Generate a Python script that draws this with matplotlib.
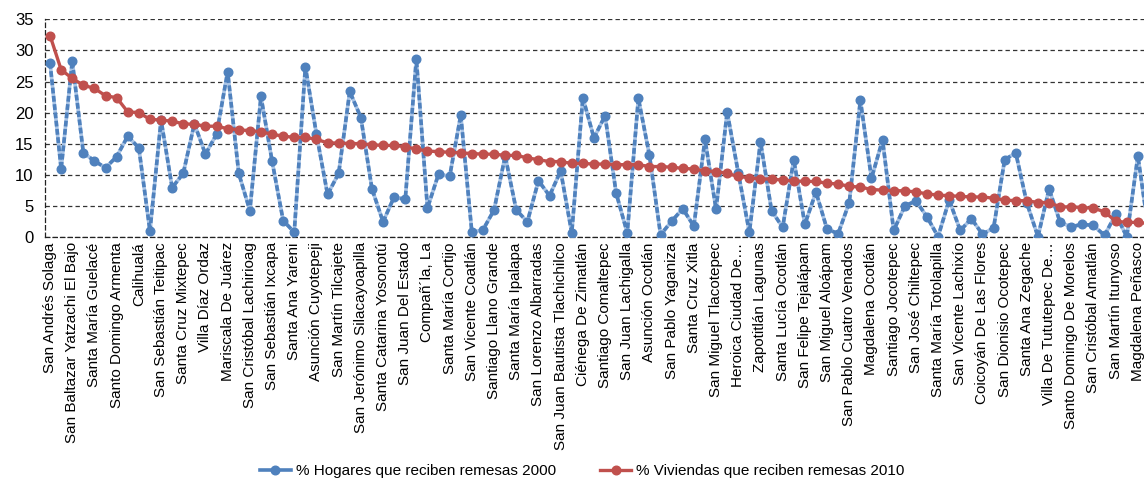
import matplotlib.pyplot as plt
import numpy as np

plt.rcParams['font.family'] = ['Liberation Sans', 'DejaVu Sans']

# Municipality names (one label for every second municipality)
municipios = [
    "San Andrés Solaga", "San Baltazar Yatzachi El Bajo", "Santa María Guelacé",
    "Santo Domingo Armenta", "Calihualá", "San Sebastián Teitipac",
    "Santa Cruz Mixtepec", "Villa Díaz Ordaz", "Mariscala De Juárez",
    "San Cristóbal Lachirioag", "San Sebastián Ixcapa", "Santa Ana Yareni",
    "Asunción Cuyotepeji", "San Martín Tilcajete", "San Jerónimo Silacayoapilla",
    "Santa Catarina Yosonotú", "San Juan Del Estado", "Compañ\u00b4la, La",
    "Santa María Cortijo", "San Vicente Coatlán", "Santiago Llano Grande",
    "Santa María Ipalapa", "San Lorenzo Albarradas", "San Juan Bautista Tlachichilco",
    "Ciénega De Zimatlán", "Santiago Comaltepec", "San Juan Lachigalla",
    "Asunción Ocotlán", "San Pablo Yaganiza", "Santa Cruz Xitla",
    "San Miguel Tlacotepec", "Heroica Ciudad De\u2026", "Zapotitlán Lagunas",
    "Santa Lucía Ocotlán", "San Felipe Tejalápam", "San Miguel Aloápam",
    "San Pablo Cuatro Venados", "Magdalena Ocotlán", "Santiago Jocotepec",
    "San José Chiltepec", "Santa María Totolapilla", "San Vicente Lachixío",
    "Coicoyán De Las Flores", "San Dionisio Ocotepec", "Santa Ana Zegache",
    "Villa De Tututepec De\u2026", "Santo Domingo De Morelos", "San Cristóbal Amatlán",
    "San Martín Itunyoso", "Magdalena Peñasco",
]

hogares_2000 = [
    28.0, 10.9, 28.3, 13.5, 12.2, 11.1, 12.9, 16.2, 14.3, 0.9,
    18.8, 7.9, 10.2, 18.2, 13.3, 16.5, 26.6, 10.2, 4.2, 22.6,
    12.2, 2.6, 0.7, 27.4, 16.5, 6.8, 10.2, 23.4, 19.2, 7.7,
    2.4, 6.4, 6.0, 28.7, 4.6, 10.1, 9.7, 19.6, 0.7, 1.1,
    4.3, 13.0, 4.3, 2.4, 9.0, 6.6, 10.6, 0.6, 22.4, 15.9,
    19.5, 7.0, 0.6, 22.3, 13.1, 0.3, 2.5, 4.5, 1.7, 15.7,
    4.4, 20.1, 10.3, 0.7, 15.3, 4.2, 1.5, 12.4, 2.0, 7.2,
    1.2, 0.5, 5.5, 22.0, 9.4, 15.6, 1.0, 4.9, 5.8, 3.2,
    0.0, 5.9, 1.0, 2.9, 0.4, 1.4, 12.4, 13.5, 5.4, 0.0,
    7.7, 2.3, 1.6, 2.0, 1.8, 0.2, 3.6, 0.0, 13.0, 0.5,
]

viviendas_2010 = [
    32.4, 26.9, 25.5, 24.4, 23.9, 22.7, 22.4, 20.1, 20.0, 18.9,
    18.8, 18.6, 18.2, 18.1, 17.8, 17.8, 17.4, 17.2, 17.1, 16.9,
    16.5, 16.2, 16.0, 16.0, 15.7, 15.1, 15.1, 15.0, 15.0, 14.8,
    14.7, 14.7, 14.5, 14.1, 13.8, 13.7, 13.6, 13.5, 13.4, 13.3,
    13.3, 13.1, 13.1, 12.7, 12.4, 12.1, 12.1, 11.8, 11.8, 11.7,
    11.7, 11.6, 11.6, 11.6, 11.3, 11.3, 11.2, 11.0, 10.9, 10.6,
    10.5, 10.2, 9.7, 9.5, 9.3, 9.3, 9.1, 9.0, 8.9, 8.9,
    8.6, 8.5, 8.1, 8.0, 7.6, 7.5, 7.4, 7.4, 7.2, 6.9,
    6.7, 6.6, 6.5, 6.4, 6.4, 6.2, 5.9, 5.8, 5.8, 5.5,
    5.5, 4.8, 4.8, 4.7, 4.6, 4.0, 2.5, 2.3, 2.3, 2.1,
]

blue = "#4F81BD"
red = "#C0504D"

fig = plt.figure(figsize=(11.44, 4.83), dpi=100)
# plot area runs past the right edge of the figure
ax = fig.add_axes([0.0389, 0.510, 0.9703, 0.4497])

x = np.arange(len(hogares_2000))

# blue series: light core under a dashed line
ax.plot(x, hogares_2000, color="#A9C4E6", lw=2.6, zorder=3)
ax.plot(x, hogares_2000, color=blue, lw=2.6, dashes=(1.6, 0.7), zorder=3.1)
ax.plot(x, hogares_2000, ls="none", marker="o", ms=6.2, color=blue,
        mec=blue, zorder=3.2)
ax.plot(x, viviendas_2010, color=red, lw=2.4, marker="o", ms=6.2,
        mec=red, zorder=4)

ax.set_xlim(-0.5, len(x) - 0.5)
ax.set_ylim(0, 35)
ax.set_yticks(range(0, 36, 5))
ax.yaxis.grid(True, color="#333333", lw=0.9, dashes=(3.5, 2.5))
ax.set_axisbelow(True)

ax.set_xticks(x[::2])
ax.set_xticklabels(municipios, rotation=90, fontsize=11)
ax.tick_params(axis="x", length=0, pad=4)
ax.tick_params(axis="y", length=0, pad=8, labelsize=12)

for side in ("top", "right"):
    ax.spines[side].set_visible(False)
for side in ("left", "bottom"):
    ax.spines[side].set_linestyle((0, (3.5, 2.5)))
    ax.spines[side].set_color("#222222")
    ax.spines[side].set_linewidth(0.9)

h1, = ax.plot([], [], color=blue, lw=2.6, marker="o", ms=6.2)
h2, = ax.plot([], [], color=red, lw=2.4, marker="o", ms=6.2)
fig.legend([h1, h2],
           ["% Hogares que reciben remesas 2000", "% Viviendas que reciben remesas 2010"],
           loc="center", bbox_to_anchor=(0.509, 0.024), ncol=2, frameon=False,
           fontsize=11, handlelength=2.0, columnspacing=2.9, handletextpad=0.35)

fig.savefig("out.png", dpi=100)
